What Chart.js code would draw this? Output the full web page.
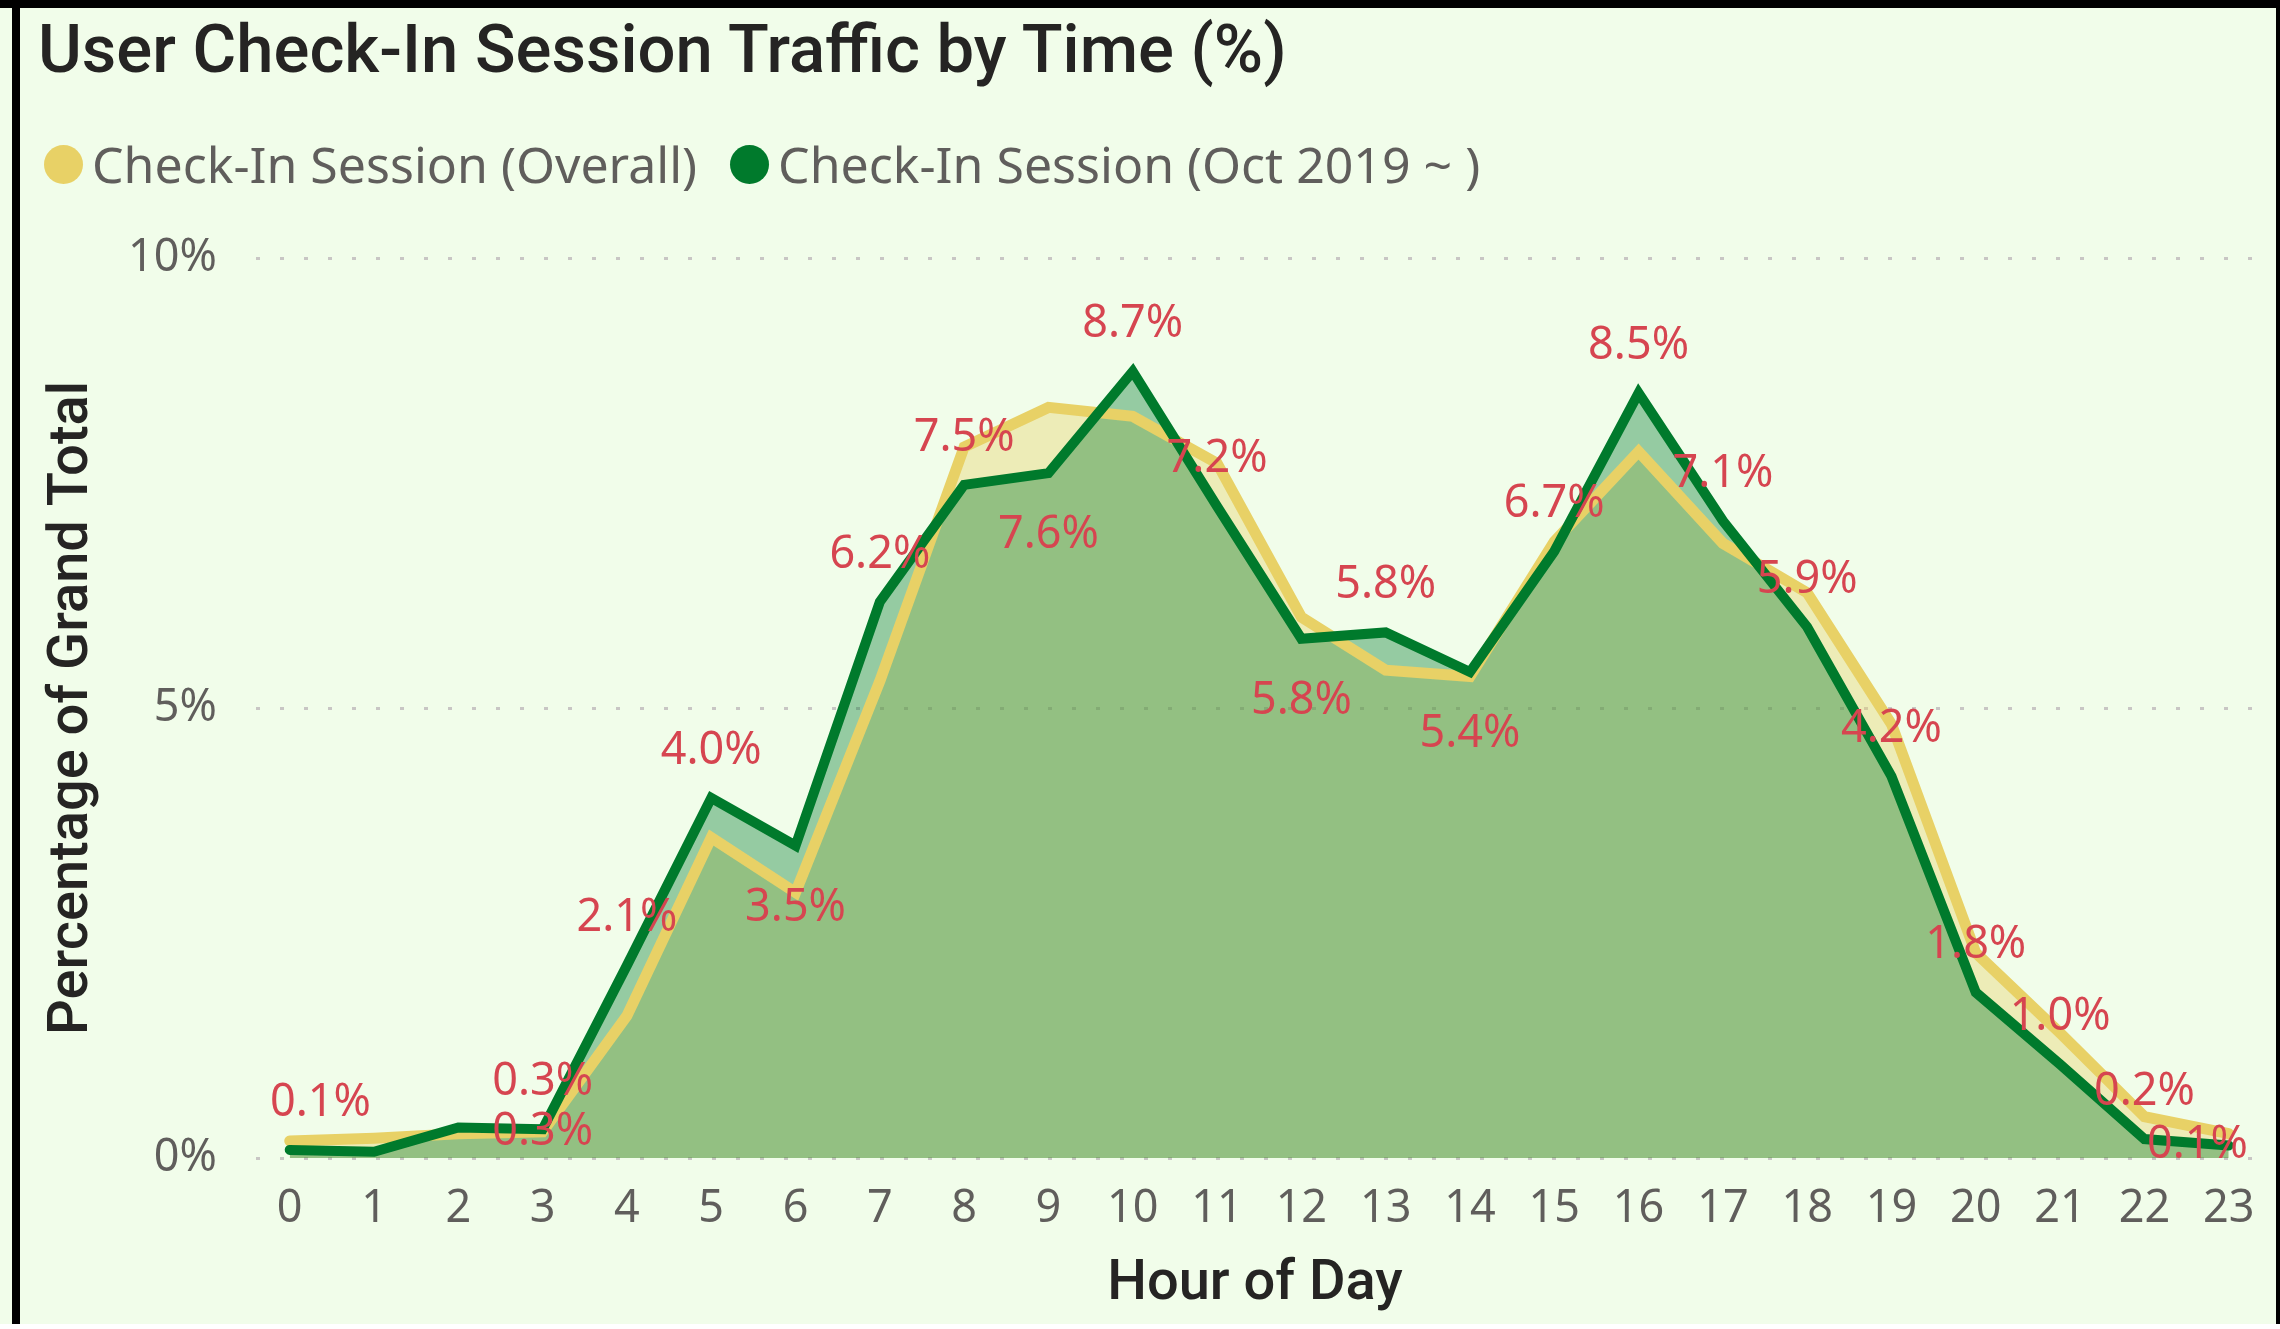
<!DOCTYPE html>
<html lang="en">
  <head>
    <meta charset="UTF-8" />
    <title>User Check-In Session Traffic by Time (%)</title>
    <style>
      html,
      body {
        margin: 0;
        padding: 0;
        background: #ffffff;
      }
      .page {
        position: relative;
        width: 2280px;
        height: 1329px;
        overflow: hidden;
      }
      .bg {
        position: absolute;
        left: 0;
        top: 0;
        width: 2276px;
        height: 1324px;
        background: #f1fdea;
      }
      .bar {
        position: absolute;
        background: #000;
      }
      .chart-title {
        position: absolute;
        left: 38px;
        top: 16px;
        font: 500 67px Roboto, sans-serif;
        line-height: 1;
        color: #252423;
        white-space: nowrap;
      }
      .legend {
        position: absolute;
        left: 44px;
        top: 139px;
        display: flex;
        align-items: center;
        font: 50px "Noto Sans", sans-serif;
        line-height: 1;
        color: #605e5c;
        white-space: nowrap;
      }
      .legend .dot {
        width: 39px;
        height: 39px;
        border-radius: 50%;
        margin-right: 9px;
      }
      .legend .item {
        display: flex;
        align-items: center;
        margin-right: 33px;
      }
      .chart-wrap {
        position: absolute;
        left: 0;
        top: 0;
        width: 2280px;
        height: 1329px;
      }
    </style>
  </head>
  <body>
    <div class="page">
      <div class="bg"></div>
      <!-- frame lines -->
      <div class="bar" style="left: 0; top: 0; width: 2280px; height: 8px"></div>
      <div class="bar" style="left: 12px; top: 0; width: 8px; height: 1324px"></div>
      <div class="bar" style="left: 2276px; top: 0; width: 4px; height: 1324px"></div>

      <div class="chart-wrap"><canvas id="trafficChart"></canvas></div>

      <div class="chart-title">User Check-In Session Traffic by Time (%)</div>
      <div class="legend">
        <div class="item">
          <span class="dot" style="background: #e8d166"></span>
          <span>Check-In Session (Overall)</span>
        </div>
        <div class="item">
          <span class="dot" style="background: #007a2c"></span>
          <span>Check-In Session (Oct 2019 ~ )</span>
        </div>
      </div>
    </div>

    <script src="https://cdn.jsdelivr.net/npm/chart.js"></script>
    <script>
      // hour of day on the x axis
      const hours = [0, 1, 2, 3, 4, 5, 6, 7, 8, 9, 10, 11, 12, 13, 14, 15, 16, 17, 18, 19, 20, 21, 22, 23];

      // % of grand total, overall
      const overallPct = [
        0.19, 0.22, 0.27, 0.29, 1.58, 3.56, 2.95, 5.3, 7.9, 8.34, 8.24, 7.72,
        6.01, 5.42, 5.35, 6.85, 7.85, 6.83, 6.28, 4.82, 2.28, 1.39, 0.46, 0.27,
      ];

      // % of grand total, Oct 2019 onwards
      const recentPct = [
        0.09, 0.07, 0.34, 0.32, 2.14, 4.0, 3.47, 6.18, 7.48, 7.61, 8.74, 7.24,
        5.77, 5.84, 5.4, 6.74, 8.5, 7.08, 5.9, 4.24, 1.84, 1.04, 0.21, 0.14,
      ];

      const yTicks = [0, 5, 10];

      // which data labels are visible (the rest were hidden in the original)
      const recentLabelPos = [
        "above", null, null, "above", "above", "above", "below", "above",
        "above", "below", "above", "above", "below", "above", "below", "above",
        "above", "above", "above", "above", "above", "above", "above", "center",
      ];
      const overallLabelPos = [
        null, null, null, "center", null, null, null, null, null, null, null, null,
        null, null, null, null, null, null, null, null, null, null, null, null,
      ];

      const LABEL_FONT = '45px "Noto Sans", sans-serif';

      // red value labels next to the points
      const pointLabels = {
        id: "pointLabels",
        afterDatasetsDraw(chart) {
          const { ctx, chartArea } = chart;
          ctx.save();
          ctx.font = LABEL_FONT;
          ctx.fillStyle = "#d64550";
          ctx.textAlign = "center";
          ctx.textBaseline = "middle";

          const drawSet = (dsIndex, values, positions) => {
            const meta = chart.getDatasetMeta(dsIndex);
            positions.forEach((pos, i) => {
              if (!pos) return;
              const pt = meta.data[i];
              const text = values[i].toFixed(1) + "%";
              const half = ctx.measureText(text).width / 2;
              let x = pt.x;
              x = Math.max(x, chartArea.left + half + 14);
              x = Math.min(x, chartArea.right - half - 6);
              let y = pt.y;
              if (pos === "above") y -= 47;
              if (pos === "below") y += 62;
              ctx.fillText(text, x, y);
            });
          };

          drawSet(0, recentPct, recentLabelPos);
          drawSet(1, overallPct, overallLabelPos);
          ctx.restore();
        },
      };

      new Chart(document.getElementById("trafficChart"), {
        type: "line",
        data: {
          labels: hours,
          datasets: [
            {
              label: "Check-In Session (Oct 2019 ~ )",
              data: recentPct,
              borderColor: "#007a2c",
              backgroundColor: "rgba(0, 122, 44, 0.38)",
              borderWidth: 10,
              borderCapStyle: "round",
              fill: "origin",
              pointRadius: 0,
              tension: 0,
            },
            {
              label: "Check-In Session (Overall)",
              data: overallPct,
              borderColor: "#e8d166",
              backgroundColor: "rgba(232, 209, 102, 0.39)",
              borderWidth: 11,
              borderCapStyle: "round",
              fill: "origin",
              pointRadius: 0,
              tension: 0,
            },
          ],
        },
        options: {
          responsive: true,
          maintainAspectRatio: false,
          animation: false,
          layout: { padding: { top: 258, right: 26, bottom: 5, left: 0 } },
          plugins: {
            legend: { display: false },
            title: { display: false },
            tooltip: { enabled: false },
            filler: { drawTime: "beforeDatasetsDraw" },
          },
          scales: {
            x: {
              type: "linear",
              min: -0.4,
              max: 23.3,
              afterBuildTicks: (axis) => {
                axis.ticks = hours.map((h) => ({ value: h }));
              },
              afterFit: (axis) => {
                axis.height = 166;
              },
              grid: { display: false, drawTicks: false },
              border: { display: false },
              ticks: {
                autoSkip: false,
                maxRotation: 0,
                padding: 24,
                color: "#605e5c",
                font: { family: '"Noto Sans", sans-serif', size: 45 },
              },
              title: {
                display: true,
                text: "Hour of Day",
                color: "#252423",
                font: { family: "Roboto, sans-serif", size: 56, weight: "500" },
                padding: { top: 0, bottom: 5 },
              },
            },
            y: {
              min: 0,
              max: 10,
              afterBuildTicks: (axis) => {
                axis.ticks = yTicks.map((v) => ({ value: v }));
              },
              afterFit: (axis) => {
                axis.width = 256;
              },
              grid: { color: "#c8c6c4", lineWidth: 3, drawTicks: false },
              border: { display: false, dash: [4, 20] },
              ticks: {
                padding: 39,
                color: "#605e5c",
                font: { family: '"Noto Sans", sans-serif', size: 45 },
                callback: (v) => v + "%",
              },
              title: {
                display: true,
                text: "Percentage of Grand Total",
                color: "#252423",
                font: { family: "Roboto, sans-serif", size: 56, weight: "500" },
                padding: { top: 39, bottom: 0 },
              },
            },
          },
        },
        plugins: [pointLabels],
      });
    </script>
  </body>
</html>
